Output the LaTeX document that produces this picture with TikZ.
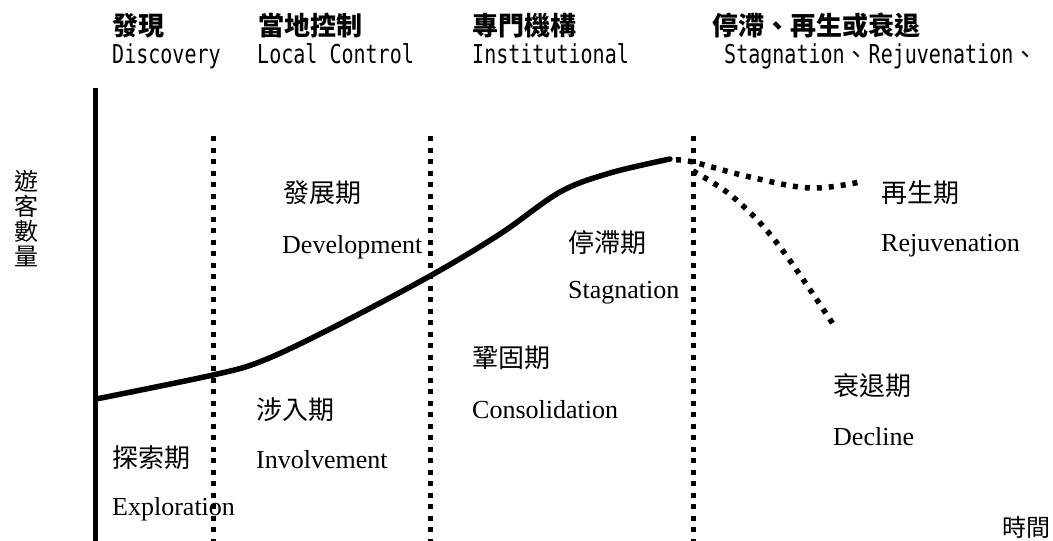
\documentclass[tikz,border=0pt]{standalone}
\usepackage{fontspec}
\setmainfont{Liberation Serif}
\newfontfamily\cjk{Noto Sans CJK TC}
\newfontfamily\hmono[FakeStretch=0.77]{DejaVu Sans Mono}
\begin{document}
\begin{tikzpicture}[x=1pt,y=-1pt,
  hcjk/.style={font=\cjk\bfseries\fontsize{26}{28}\selectfont,anchor=base west,inner sep=0pt},
  heng/.style={font=\hmono\fontsize{26}{28}\selectfont,anchor=base west,inner sep=0pt},
  lcjk/.style={font=\cjk\fontsize{26}{28}\selectfont,anchor=base west,inner sep=0pt},
  leng/.style={font=\fontsize{26}{28}\selectfont,anchor=base west,inner sep=0pt},
  axisline/.style={line width=5pt},
  divider/.style={line width=5pt,dash pattern=on 5pt off 6.5pt},
  curveline/.style={line width=5.5pt,line cap=round,line join=round},
  futureline/.style={line width=5.5pt,dash pattern=on 5pt off 7pt}]
\useasboundingbox (0,0) rectangle (1053,541);
% header
\node[hcjk] (h1) at (112,35) {發現};
\node[hcjk] (h2) at (258,35) {當地控制};
\node[hcjk] (h3) at (472,35) {專門機構};
\node[hcjk] (h4) at (712,35) {停滯、再生或衰退};
\node[heng] (e1) at (112,63) {Discovery};
\node[heng] (e2) at (257,63) {Local Control};
\node[heng] (e3) at (472,63) {Institutional};
\node[heng] (e4) at (724,63) {Stagnation{\cjk\fontsize{24}{26}\selectfont 、}Rejuvenation{\cjk\fontsize{24}{26}\selectfont 、}};
% axis
\coordinate (ytop) at (95,88);
\coordinate (ybot) at (95,541);
\draw[axisline] (ytop) -- (ybot);
% dividers
\foreach \x/\n in {213/d1,430/d2,693/d3}{
  \coordinate (\n t) at (\x,136);
  \coordinate (\n b) at (\x,541);
  \draw[divider] (\n t) -- (\n b);
}
% main curve
\draw[curveline] plot[smooth,tension=0.55] coordinates {(96,399) (213,375) (262,361) (330,329) (430,276) (500,234) (560,192) (610,173) (670,159)};
% rejuvenation
\draw[futureline] plot[smooth,tension=0.6] coordinates {(676,160) (693,162) (750,177) (810,188) (860,182)};
% decline
\draw[futureline] plot[smooth,tension=0.6] coordinates {(693,171) (733,197) (777,243) (835,327)};
% labels
\node[lcjk] (l1) at (283,202) {發展期};
\node[leng] (l1e) at (282,253) {Development};
\node[lcjk] (l2) at (568,252) {停滯期};
\node[leng] (l2e) at (568,298) {Stagnation};
\node[lcjk] (l3) at (472,367) {鞏固期};
\node[leng] (l3e) at (472,418) {Consolidation};
\node[lcjk] (l4) at (256,419) {涉入期};
\node[leng] (l4e) at (256,468) {Involvement};
\node[lcjk] (l5) at (112,467) {探索期};
\node[leng] (l5e) at (112,515) {Exploration};
\node[lcjk] (l6) at (881,202) {再生期};
\node[leng] (l6e) at (881,251) {Rejuvenation};
\node[lcjk] (l7) at (833,395) {衰退期};
\node[leng] (l7e) at (833,445) {Decline};
\node[font=\cjk\fontsize{24}{26}\selectfont,anchor=base west,inner sep=0pt] (tx) at (1002,536) {時間};
\node[font=\cjk\fontsize{24}{25}\selectfont,align=center,inner sep=0pt,anchor=north] (ty) at (27,170) {遊\\客\\數\\量};
\end{tikzpicture}
\end{document}
